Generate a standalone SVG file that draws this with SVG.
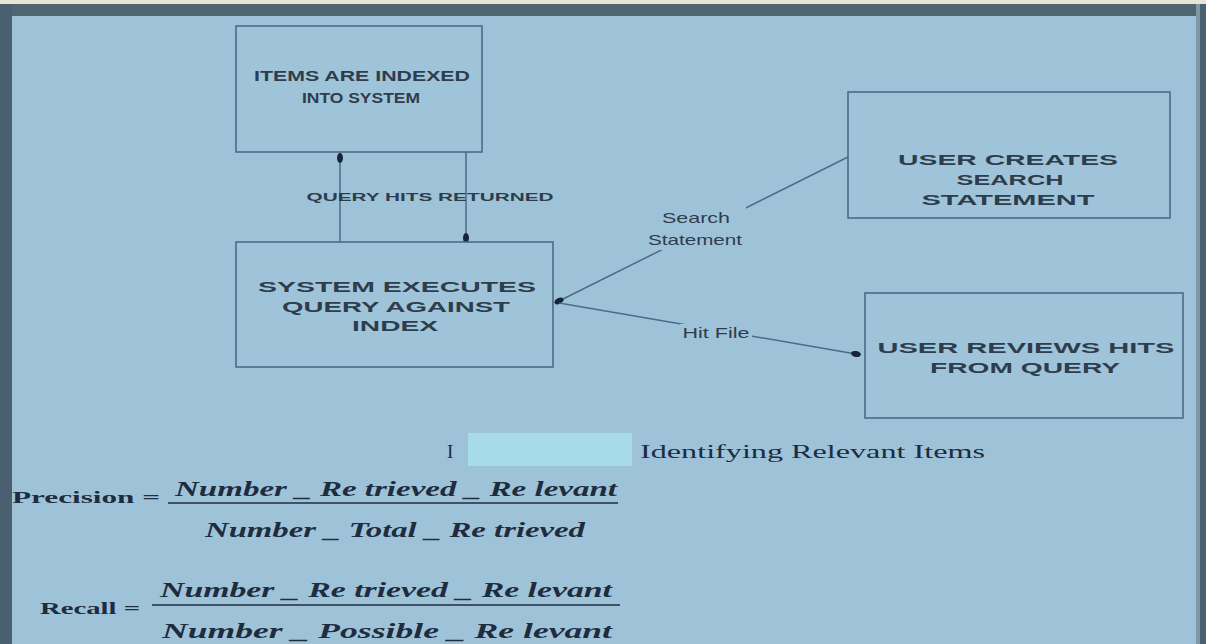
<svg xmlns="http://www.w3.org/2000/svg" width="1206" height="644" viewBox="0 0 1206 644">
<style>
.box{fill:#9fc4da;stroke:#4d6b86;stroke-width:1.6}
.bt{font-family:"Liberation Sans",Arial,sans-serif;font-weight:bold;font-size:14px;fill:#2e3d4c;text-anchor:middle}
.lab{font-family:"Liberation Sans",Arial,sans-serif;font-size:15px;fill:#2e3d4c;text-anchor:middle}
.small{font-family:"Liberation Sans",Arial,sans-serif;font-weight:bold;font-size:10px;fill:#2e3d4c;text-anchor:middle}
.conn{stroke:#4d6b86;stroke-width:1.5;fill:none}
.dot{fill:#15263a}
.mask{fill:#9ec3d9}
.f{font-family:"Liberation Serif","Times New Roman",serif;font-weight:bold;font-style:italic;font-size:22px;fill:#1e2c3e;text-anchor:middle}
.fl{font-family:"Liberation Serif","Times New Roman",serif;font-weight:bold;font-size:16px;fill:#1e2c3e}
.fline{stroke:#1e2c3e;stroke-width:1.6}
</style>
<defs>
<marker id="dot" viewBox="0 0 10 6" refX="5" refY="3" markerWidth="10" markerHeight="6" markerUnits="userSpaceOnUse" orient="auto">
<ellipse cx="5" cy="3" rx="5" ry="3" class="dot"/>
</marker>
</defs>
<rect x="0" y="0" width="1206" height="644" fill="#9ec3d9"/>
<rect x="0" y="0" width="1206" height="4" fill="#e6e5d6"/>
<rect x="0" y="4" width="1206" height="12" fill="#4f6570"/>
<rect x="0" y="4" width="12" height="640" fill="#4a6070"/>
<rect x="1196" y="4" width="4" height="640" fill="#7f98a6"/>
<rect x="1200" y="4" width="6" height="640" fill="#4a6070"/>

<g id="connectors">
<line class="conn" x1="340" y1="242" x2="340" y2="158" marker-end="url(#dot)"/>
<line class="conn" x1="466" y1="152" x2="466" y2="238" marker-end="url(#dot)"/>
<text class="small" x="430" y="201" textLength="247" lengthAdjust="spacingAndGlyphs">QUERY HITS RETURNED</text>
<line class="conn" x1="848" y1="157" x2="559" y2="301" marker-end="url(#dot)"/>
<rect class="mask" x="646" y="206" width="100" height="44"/>
<text class="lab" x="696" y="223" textLength="68" lengthAdjust="spacingAndGlyphs">Search</text>
<text class="lab" x="695" y="245" textLength="94" lengthAdjust="spacingAndGlyphs">Statement</text>
<line class="conn" x1="559" y1="303" x2="856" y2="354" marker-end="url(#dot)"/>
<rect class="mask" x="680" y="324" width="72" height="18"/>
<text class="lab" x="716" y="338" textLength="67" lengthAdjust="spacingAndGlyphs">Hit File</text>
</g>

<g id="n1">
<rect class="box" x="236" y="26" width="246" height="126"/>
<text class="bt" x="362" y="81" textLength="216" lengthAdjust="spacingAndGlyphs">ITEMS ARE INDEXED</text>
<text class="bt" x="361" y="103" textLength="118" lengthAdjust="spacingAndGlyphs">INTO SYSTEM</text>
</g>
<g id="n2">
<rect class="box" x="236" y="242" width="317" height="125"/>
<text class="bt" x="397" y="292" textLength="278" lengthAdjust="spacingAndGlyphs">SYSTEM EXECUTES</text>
<text class="bt" x="396" y="312" textLength="228" lengthAdjust="spacingAndGlyphs">QUERY AGAINST</text>
<text class="bt" x="395" y="331" textLength="86" lengthAdjust="spacingAndGlyphs">INDEX</text>
</g>
<g id="n3">
<rect class="box" x="848" y="92" width="322" height="126"/>
<text class="bt" x="1008" y="165" textLength="220" lengthAdjust="spacingAndGlyphs">USER CREATES</text>
<text class="bt" x="1010" y="185" textLength="107" lengthAdjust="spacingAndGlyphs">SEARCH</text>
<text class="bt" x="1008" y="205" textLength="173" lengthAdjust="spacingAndGlyphs">STATEMENT</text>
</g>
<g id="n4">
<rect class="box" x="865" y="293" width="318" height="125"/>
<text class="bt" x="1026" y="353" textLength="297" lengthAdjust="spacingAndGlyphs">USER REVIEWS HITS</text>
<text class="bt" x="1025" y="373" textLength="190" lengthAdjust="spacingAndGlyphs">FROM QUERY</text>
</g>

<g id="caption">
<text x="447" y="458" font-family="Liberation Serif,serif" font-size="19" fill="#1e2c3e">I</text>
<rect x="468" y="433" width="164" height="33" fill="#a8dbe9"/>
<text x="640" y="458" font-family="Liberation Serif,serif" font-size="19" fill="#1e2c3e" textLength="345" lengthAdjust="spacingAndGlyphs">Identifying Relevant Items</text>
</g>

<g id="precision">
<text class="fl" x="12" y="503" textLength="148" lengthAdjust="spacingAndGlyphs">Precision =</text>
<text class="f" x="396" y="496" textLength="442" lengthAdjust="spacingAndGlyphs">Number _ Re trieved _ Re levant</text>
<line class="fline" x1="168" y1="503" x2="618" y2="503"/>
<text class="f" x="395" y="537" textLength="380" lengthAdjust="spacingAndGlyphs">Number _ Total _ Re trieved</text>
</g>

<g id="recall">
<text class="fl" x="40" y="614" textLength="100" lengthAdjust="spacingAndGlyphs">Recall =</text>
<text class="f" x="386" y="597" textLength="452" lengthAdjust="spacingAndGlyphs">Number _ Re trieved _ Re levant</text>
<line class="fline" x1="152" y1="605" x2="620" y2="605"/>
<text class="f" x="387" y="638" textLength="450" lengthAdjust="spacingAndGlyphs">Number _ Possible _ Re levant</text>
</g>
</svg>
